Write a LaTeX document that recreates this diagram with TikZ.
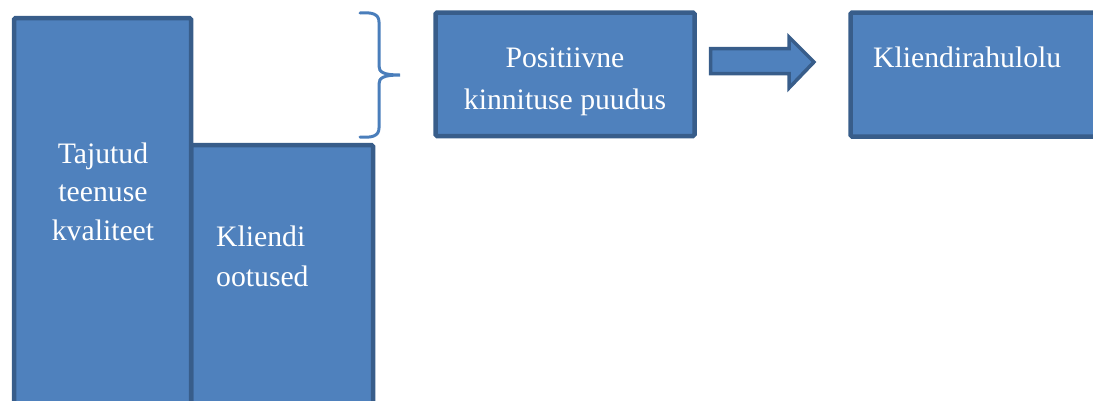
\documentclass[tikz,border=0pt]{standalone}
\usepackage{fontspec}
\setmainfont{Liberation Serif}
\definecolor{boxfill}{HTML}{4F81BD}
\definecolor{boxline}{HTML}{385D8A}
\definecolor{bracecol}{HTML}{4A7EBB}
\begin{document}
\begin{tikzpicture}[x=1pt,y=-1pt,
  box/.style={fill=boxfill,draw=boxline,line width=4.5pt,rounded corners=1.5pt,inner sep=0pt,outer sep=0pt,anchor=north west},
  lbl/.style={text=white,font=\fontsize{29.7}{35}\selectfont,inner sep=0pt}]
\useasboundingbox (0,0) rectangle (1093,400);
\clip (0,0) rectangle (1093,400);
% boxes
\node[box,minimum width=182pt,minimum height=275pt] (b2) at (191,145) {};
\node[box,minimum width=177pt,minimum height=402pt] (b1) at (14,18) {};
\node[box,minimum width=259pt,minimum height=123.5pt] (b3) at (435.5,12.5) {};
\node[box,minimum width=260pt,minimum height=124pt] (b4) at (850.5,12.5) {};
% block arrow from b3 to b4
\coordinate (as) at (710.5,61);
\coordinate (at) at (814,62);
\draw[fill=boxfill,draw=boxline,line width=3.5pt,line join=miter]
  (as |- 0,48.5) -- (789,48.5) -- (789,37) -- (at) -- (789,88) -- (789,73.5) -- (as |- 0,73.5) -- cycle;
% brace
\draw[bracecol,line width=3pt,line cap=round]
  (360,13) .. controls (372,12) and (379,14) .. (379,22) -- (379,66)
  .. controls (379,72) and (383,75) .. (400,75)
  .. controls (383,75) and (379,78) .. (379,84) -- (379,128)
  .. controls (379,136) and (372,138) .. (360,137);
% texts
\node[lbl,anchor=base] (t1a) at (103,163) {Tajutud};
\node[lbl,anchor=base] (t1b) at (103,201.5) {teenuse};
\node[lbl,anchor=base] (t1c) at (103,240) {kvaliteet};
\node[lbl,anchor=base west] (t2a) at (216,246) {Kliendi};
\node[lbl,anchor=base west] (t2b) at (216,286) {ootused};
\node[lbl,anchor=base] (t3a) at (565,67) {Positiivne};
\node[lbl,anchor=base] (t3b) at (565,109) {kinnituse puudus};
\node[lbl,anchor=base west] (t4) at (873,67) {Kliendirahulolu};
\end{tikzpicture}
\end{document}
